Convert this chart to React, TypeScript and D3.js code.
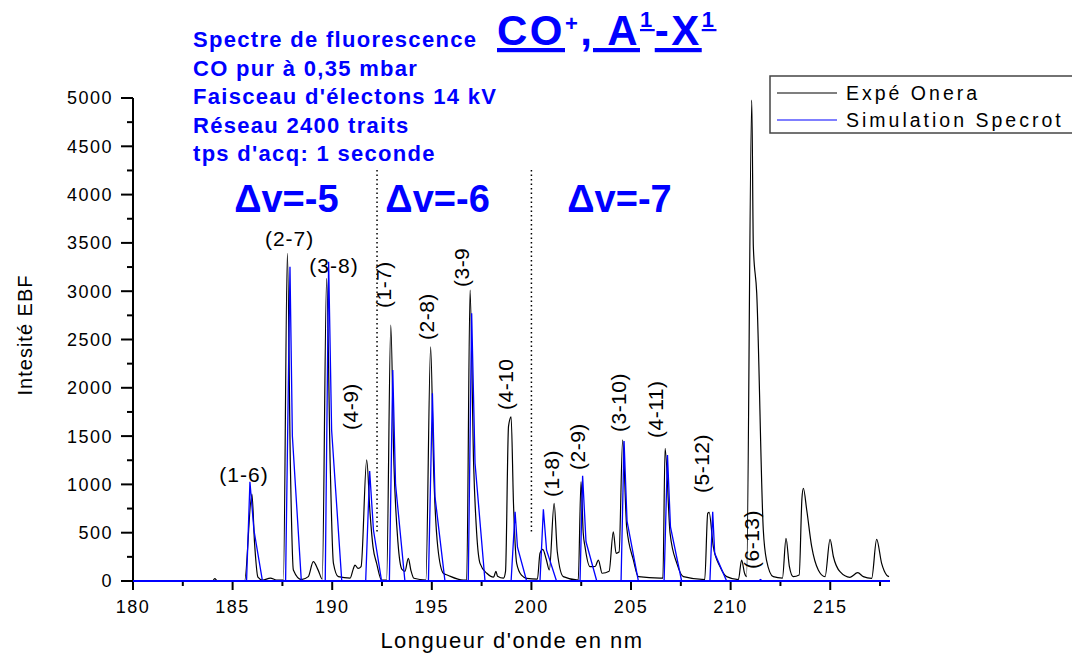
import React from "react";
import * as d3 from "d3";

// spectre expérimental (nm, intensité)
const expeNm = [
  180, 184, 184.1, 184.25, 185.6, 185.97, 186.1, 186.27, 186.5, 186.9, 187.2, 187.55,
  187.75, 187.9, 188.05, 188.45, 188.8, 189.05, 189.3, 189.5, 189.72, 189.9, 190.06,
  190.31, 190.9, 191.05, 191.14, 191.3, 191.45, 191.73, 191.9, 192.05, 192.23, 192.48,
  192.73, 192.94, 193.1, 193.3, 193.5, 193.65, 193.82, 193.95, 194.1, 194.7, 194.94,
  195.1, 195.3, 195.58, 195.8, 196.58, 196.75, 196.92, 197.1, 197.25, 197.42, 197.76,
  198.1, 198.22, 198.3, 198.6, 198.7, 198.85, 198.98, 199.1, 199.26, 199.5, 199.76,
  200.3, 200.43, 200.57, 200.75, 200.9, 201.14, 201.3, 201.6, 202.35, 202.49, 202.6,
  202.69, 202.94, 203.2, 203.36, 203.55, 203.9, 204.11, 204.25, 204.4, 204.58, 204.78,
  205.12, 205.37, 206.46, 206.6, 206.71, 206.96, 207.3, 207.63, 208.7, 208.85, 208.92,
  209.13, 209.47, 209.8, 210.39, 210.55, 210.7, 210.8, 211.06, 211.14, 211.31, 211.64,
  211.8, 212.14, 212.6, 212.78, 212.95, 213.14, 213.44, 213.58, 213.65, 213.82, 214.07,
  214.4, 214.74, 214.99, 215.16, 215.49, 215.99, 216.38, 216.66, 217.08, 217.33, 217.58,
  217.83, 217.95,
];
const expeVal = [
  0, 0, 25, 0, 0, 900, 400, 40, 10, 30, 10, 10,
  3392, 1200, 113, 15, 45, 200, 110, 20, 3133, 1200, 186,
  45, 30, 120, 165, 130, 150, 1253, 700, 350, 183, 10,
  10, 2650, 1200, 400, 120, 100, 235, 110, 28, 10, 2425,
  1100, 350, 80, 60, 10, 10, 3012, 1200, 500, 183, 80,
  40, 100, 50, 30, 100, 1600, 1700, 800, 183, 60, 28,
  20, 287, 328, 220, 114, 804, 300, 45, 10, 1028, 500,
  355, 148, 150, 217, 80, 100, 510, 287, 300, 1460, 562,
  217, 45, 30, 30, 1373, 494, 183, 45, 15, 700, 711,
  355, 148, 45, 15, 217, 80, 45, 4979, 3460, 2978, 528,
  217, 45, 30, 442, 148, 45, 62, 856, 960, 735, 355,
  114, 45, 431, 251, 96, 38, 86, 45, 28, 431, 183,
  62, 45,
];

// simulation Specrot (nm, intensité)
const simuNm = [
  180, 185.7, 185.87, 186.07, 186.5, 187.66, 187.88, 188.0, 188.45, 189.65, 189.82,
  189.97, 190.48, 191.68, 191.88, 192.07, 192.48, 192.87, 193.04, 193.18, 193.65,
  194.83, 195.03, 195.16, 195.66, 196.83, 197.0, 197.17, 197.67, 198.98, 199.18,
  199.3, 199.76, 200.43, 200.6, 200.76, 201.26, 202.44, 202.57, 202.74, 203.28,
  204.5, 204.65, 204.8, 205.37, 206.66, 206.83, 206.98, 207.54, 208.96, 209.1,
  209.2, 209.8, 211.4, 211.5, 211.6, 218,
];
const simuVal = [
  0, 0, 1028, 528, 0, 0, 3254, 1500, 0, 0, 3305,
  1563, 0, 0, 1139, 528, 0, 0, 2184, 1000, 0,
  0, 1943, 872, 0, 0, 2771, 1218, 0, 0, 717,
  350, 0, 0, 742, 320, 0, 0, 1090, 406, 0,
  0, 1450, 620, 0, 0, 1304, 560, 0, 0, 717,
  287, 0, 0, 15, 0, 0,
];

const xTicks = [180, 185, 190, 195, 200, 205, 210, 215];
const yTicks = [0, 500, 1000, 1500, 2000, 2500, 3000, 3500, 4000, 4500, 5000];

// étiquettes horizontales des bandes
const flatLabels = ["(1-6)", "(2-7)", "(3-8)"];
const flatNm = [185.57, 187.86, 190.09];
const flatVal = [1028, 3468, 3191];

// étiquettes verticales des bandes
const rotLabels = ["(4-9)", "(1-7)", "(2-8)", "(3-9", "(4-10", "(1-8)", "(2-9)", "(3-10)", "(4-11)", "(5-12)", "(6-13)"];
const rotNm = [191.3, 192.95, 195.11, 196.87, 199.08, 201.39, 202.69, 204.75, 206.61, 208.92, 211.43];
const rotVal = [1563, 2826, 2495, 3043, 1770, 870, 1149, 1542, 1480, 911, 124];

const deltaLabels = ["\u0394v=-5", "\u0394v=-6", "\u0394v=-7"];
const deltaNm = [187.7, 195.29, 204.42];
const deltaVal = 3820;

const separatorNm = [192.25, 200.0];
const separatorFrom = 507;
const separatorTo = 4255;

const infoLines = [
  "Spectre de fluorescence",
  "CO pur à 0,35 mbar",
  "Faisceau d'électons 14 kV",
  "Réseau 2400 traits",
  "tps d'acq: 1 seconde",
];
const legendNames = ["Expé Onera", "Simulation Specrot"];
const legendColors = ["#000000", "#0000ff"];

const W = 1072;
const H = 655;
const FONT = "'Liberation Sans', Arial, sans-serif";
const BLUE = "#0000ff";

export default function App() {
  const x = d3.scaleLinear().domain([180, 218]).range([133, 890]);
  const y = d3.scaleLinear().domain([0, 5000]).range([581, 98]);

  const expeLine = d3
    .line<number>()
    .x((_, i) => x(expeNm[i]))
    .y((_, i) => y(expeVal[i]))
    .curve(d3.curveMonotoneX);
  const simuLine = d3
    .line<number>()
    .x((_, i) => x(simuNm[i]))
    .y((_, i) => y(simuVal[i]));

  const xMinor = d3.range(180, 218, 2.5);
  const yMinor = d3.range(0, 5001, 250);

  return (
    <svg
      width={W}
      height={H}
      style={{ position: "absolute", left: 0, top: 0, background: "#fff" }}
      fontFamily={FONT}
    >
      {/* titre */}
      {infoLines.map((t, i) => (
        <text key={t} x={193} y={47 + i * 28.5} fill={BLUE} fontWeight="bold" fontSize={22} letterSpacing={1.3}>
          {t}
        </text>
      ))}
      <text x={497} y={45} fill={BLUE} fontWeight="bold" fontSize={42} letterSpacing={2.5}>
        <tspan style={{ textDecoration: "underline" }}>CO</tspan>
        <tspan fontSize={22} dy={-14}>+</tspan>
        <tspan dy={14} style={{ textDecoration: "underline" }}>, A</tspan>
        <tspan fontSize={22} dy={-18} style={{ textDecoration: "underline" }}>1</tspan>
        <tspan dy={18} style={{ textDecoration: "underline" }}>-X</tspan>
        <tspan fontSize={22} dy={-18} style={{ textDecoration: "underline" }}>1</tspan>
      </text>

      {/* axes */}
      <line x1={133} x2={133} y1={y(5000)} y2={y(0) + 1} stroke="#000" strokeWidth={2} />
      <line x1={133} x2={x(218)} y1={y(0)} y2={y(0)} stroke="#000" strokeWidth={2} />
      {yMinor.map((v) => (
        <line key={v} x1={v % 500 === 0 ? 121 : 127} x2={133} y1={y(v)} y2={y(v)} stroke="#000" strokeWidth={2} />
      ))}
      {yTicks.map((v) => (
        <text key={v} x={113} y={y(v)} dy="0.36em" textAnchor="end" fontSize={18} letterSpacing={1.5}>
          {v}
        </text>
      ))}
      {xMinor.map((v) => (
        <line key={v} x1={x(v)} x2={x(v)} y1={y(0)} y2={y(0) + (v % 5 === 0 ? 9 : 5)} stroke="#000" strokeWidth={2} />
      ))}
      {xTicks.map((v) => (
        <text key={v} x={x(v)} y={613} textAnchor="middle" fontSize={18} letterSpacing={1.5}>
          {v}
        </text>
      ))}
      <text x={512} y={648} textAnchor="middle" fontSize={22} letterSpacing={1.5}>
        Longueur d'onde en nm
      </text>
      <text transform="translate(32,335) rotate(-90)" textAnchor="middle" fontSize={20} letterSpacing={1}>
        Intesité EBF
      </text>

      {/* séparateurs */}
      {separatorNm.map((n) => (
        <line
          key={n}
          x1={x(n)}
          x2={x(n)}
          y1={y(separatorTo)}
          y2={y(separatorFrom)}
          stroke="#000"
          strokeWidth={1.5}
          strokeDasharray="1.5,3"
        />
      ))}

      {/* courbes */}
      <path d={expeLine(expeNm) ?? ""} fill="none" stroke="#000" strokeWidth={1.2} />
      <path d={simuLine(simuNm) ?? ""} fill="none" stroke={BLUE} strokeWidth={1.3} />
      <line x1={133} x2={x(218)} y1={y(0)} y2={y(0)} stroke={BLUE} strokeWidth={2} />

      {/* étiquettes */}
      {deltaLabels.map((t, i) => (
        <text key={t} x={x(deltaNm[i])} y={y(deltaVal)} textAnchor="middle" fill={BLUE} fontWeight="bold" fontSize={38}>
          {t}
        </text>
      ))}
      {flatLabels.map((t, i) => (
        <text key={t} x={x(flatNm[i])} y={y(flatVal[i])} textAnchor="middle" fontSize={21} letterSpacing={1}>
          {t}
        </text>
      ))}
      {rotLabels.map((t, i) => (
        <text
          key={t}
          transform={`translate(${x(rotNm[i])},${y(rotVal[i])}) rotate(-90)`}
          fontSize={21}
          letterSpacing={0.5}
        >
          {t}
        </text>
      ))}

      {/* légende */}
      <rect x={770} y={76} width={320} height={57} fill="none" stroke="#444" strokeWidth={1.5} />
      {legendNames.map((t, i) => (
        <g key={t}>
          <line x1={777} x2={837} y1={93 + i * 27} y2={93 + i * 27} stroke={legendColors[i]} strokeWidth={1.2} />
          <text x={846} y={100 + i * 27} fontSize={19.5} letterSpacing={3}>
            {t}
          </text>
        </g>
      ))}
    </svg>
  );
}
